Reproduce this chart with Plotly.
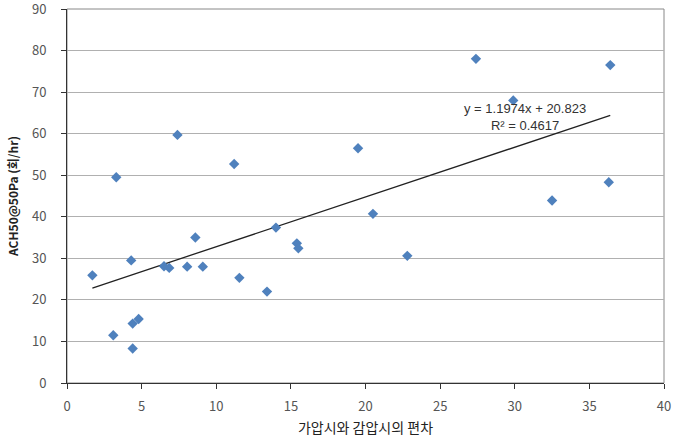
import plotly.graph_objects as go

x_vals = [1.7, 3.3, 3.1, 4.3, 4.4, 4.4, 4.8, 7.4, 6.5, 6.85, 8.05, 8.6, 9.1, 11.2, 11.55,
          13.4, 14.0, 15.4, 15.5, 19.5, 20.5, 22.8, 27.4, 29.9, 32.5, 36.4, 36.3]
y_vals = [25.9, 49.5, 11.5, 29.5, 8.3, 14.3, 15.4, 59.7, 28.1, 27.7, 28.0, 35.0, 28.0, 52.7, 25.3,
          22.0, 37.4, 33.6, 32.4, 56.5, 40.7, 30.6, 78.0, 68.0, 43.9, 76.5, 48.3]
slope = 1.1974
intercept = 20.823
r2 = 0.4617
x_ticks = [0, 5, 10, 15, 20, 25, 30, 35, 40]
y_ticks = [0, 10, 20, 30, 40, 50, 60, 70, 80, 90]

fit_x = [min(x_vals), max(x_vals)]
fit_y = [slope * v + intercept for v in fit_x]

fig = go.Figure()
fig.add_trace(go.Scatter(x=fit_x, y=fit_y, mode="lines",
                         line=dict(color="#222222", width=1.3), hoverinfo="skip"))
fig.add_trace(go.Scatter(x=x_vals, y=y_vals, mode="markers",
                         marker=dict(symbol="diamond", size=8, color="#4F81BD")))

fig.add_annotation(x=30.7, y=64.0, xref="x", yref="y",
                   text=f"y = {slope}x + {intercept}<br>R² = {r2}",
                   showarrow=False, align="center",
                   font=dict(family="Liberation Sans, Noto Sans", size=13, color="#333333"))

font_main = "Noto Sans CJK KR, Noto Sans, sans-serif"
fig.update_layout(
    width=682, height=444,
    margin=dict(l=67, r=18, t=9, b=61, autoexpand=False),
    paper_bgcolor="white", plot_bgcolor="white",
    showlegend=False,
    font=dict(family=font_main, color="#555555", size=13),
    xaxis=dict(range=[0, 40], tickvals=x_ticks, showgrid=False, zeroline=False,
               showline=True, linecolor="#333333", linewidth=1, mirror=False,
               ticks="outside", ticklen=5, tickcolor="#333333", ticklabelstandoff=6,
               tickfont=dict(size=13, color="#555555"), ticklabeloverflow="allow",
               title=dict(text="가압시와 감압시의 편차", font=dict(size=14, color="#222222"), standoff=9)),
    yaxis=dict(range=[0, 90], tickvals=y_ticks, ticktext=[str(v) for v in y_ticks],
               showgrid=True, gridcolor="#B0B0B0", gridwidth=1.2,
               zeroline=False, showline=True, linecolor="#333333", linewidth=1,
               ticks="outside", ticklen=5, tickcolor="#333333", ticklabelstandoff=12,
               tickfont=dict(size=13, color="#555555"), ticklabeloverflow="allow",
               title=dict(text="<b>ACH50@50Pa (회/hr)</b>", font=dict(size=12, color="#222222"), standoff=10)),
)
fig.add_shape(type="rect", xref="paper", yref="paper", x0=0, y0=0, x1=1, y1=1,
              line=dict(color="#888888", width=1), layer="below")
fig.write_html("out.html")
